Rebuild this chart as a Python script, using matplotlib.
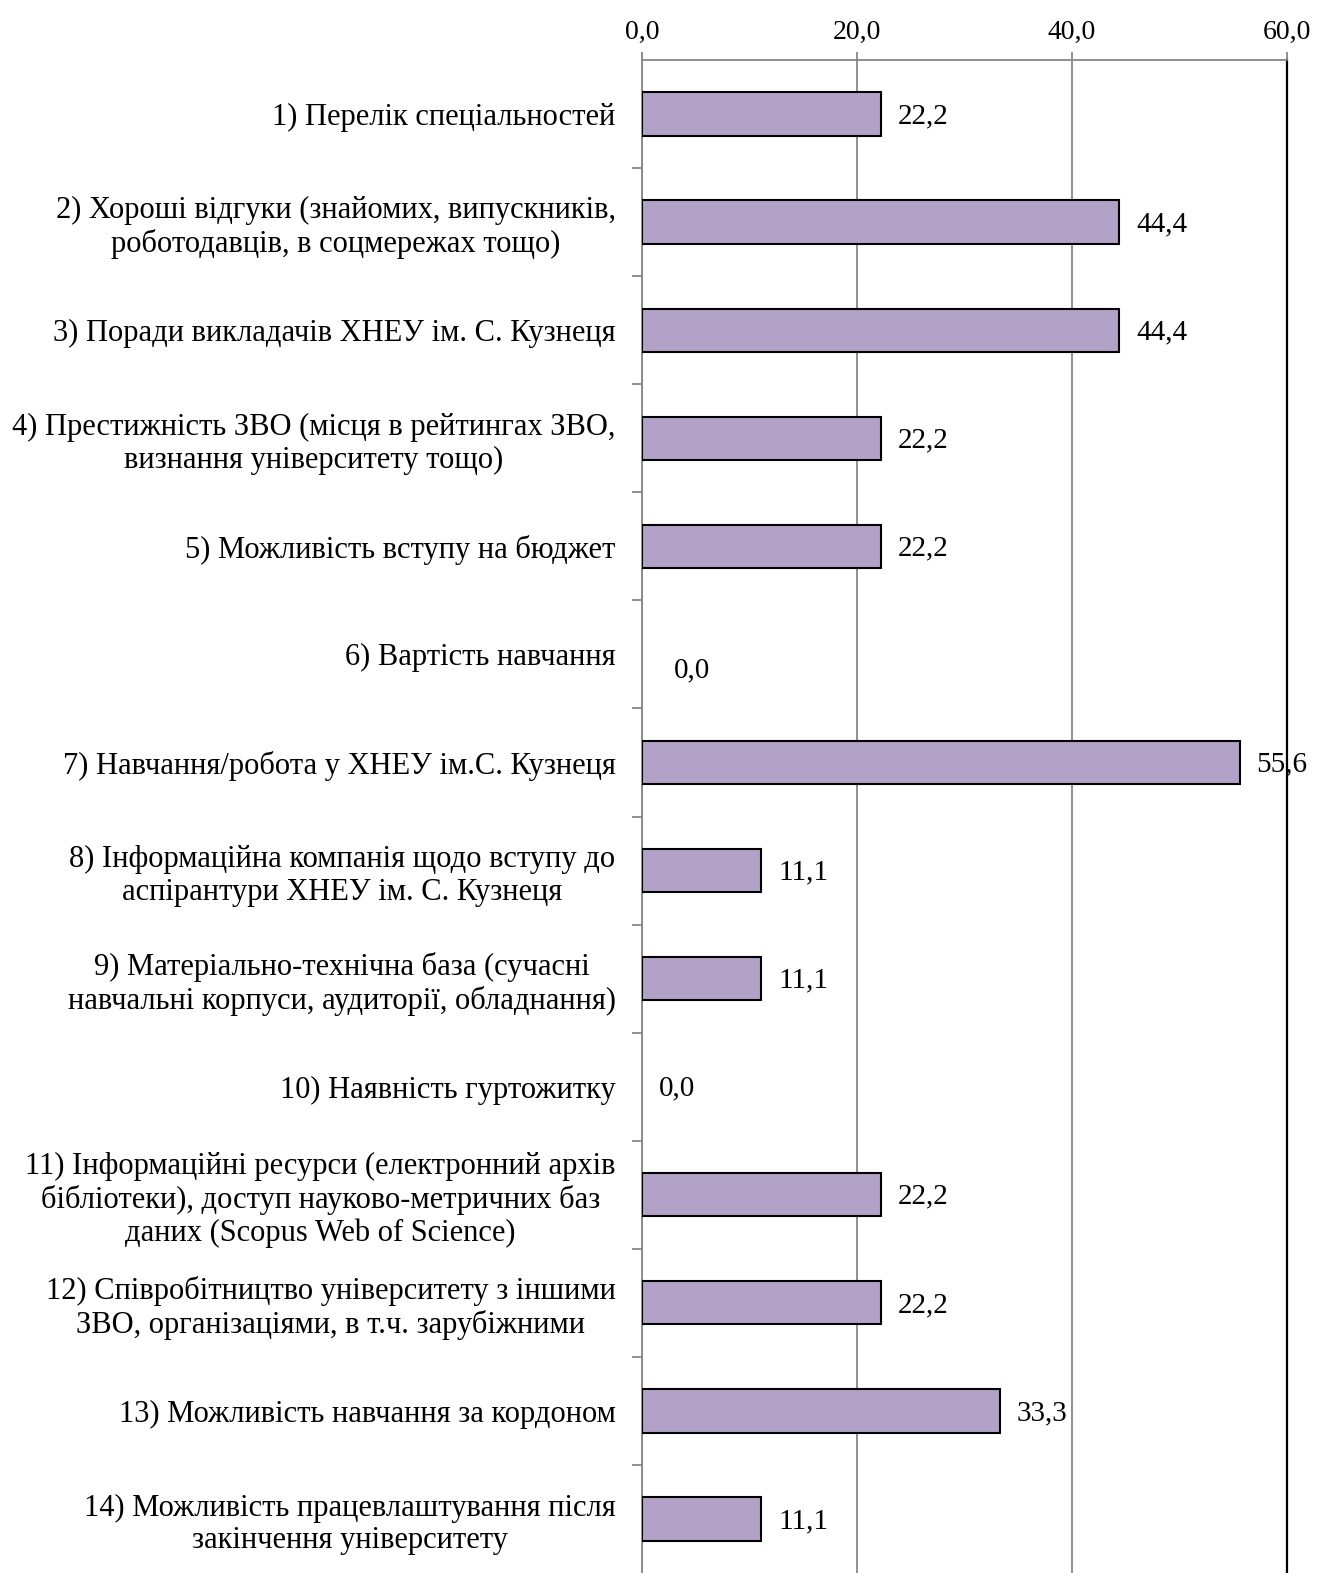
import matplotlib.pyplot as plt
from matplotlib.ticker import FixedLocator

categories = [
    "1) Перелік спеціальностей",
    "2) Хороші відгуки (знайомих, випускників,\nроботодавців, в соцмережах тощо)",
    "3) Поради викладачів ХНЕУ ім. С. Кузнеця",
    "4) Престижність ЗВО (місця в рейтингах ЗВО,\nвизнання університету тощо)",
    "5) Можливість вступу на бюджет",
    "6) Вартість навчання",
    "7) Навчання/робота у ХНЕУ ім.С. Кузнеця",
    "8) Інформаційна компанія щодо вступу до\nаспірантури ХНЕУ ім. С. Кузнеця",
    "9) Матеріально-технічна база (сучасні\nнавчальні корпуси, аудиторії, обладнання)",
    "10) Наявність гуртожитку",
    "11) Інформаційні ресурси (електронний архів\nбібліотеки), доступ науково-метричних баз\nданих (Scopus Web of Science)",
    "12) Співробітництво університету з іншими\nЗВО, організаціями, в т.ч. зарубіжними",
    "13) Можливість навчання за кордоном",
    "14) Можливість працевлаштування після\nзакінчення університету",
]
values = [22.2, 44.4, 44.4, 22.2, 22.2, 0.0, 55.6, 11.1, 11.1, 0.0, 22.2, 22.2, 33.3, 11.1]
x_ticks = [0, 20, 40, 60]

plt.rcParams['font.family'] = ['Liberation Serif', 'DejaVu Serif']

fig = plt.figure(figsize=(13.31, 15.73), dpi=100)
ax = fig.add_axes([642 / 1331, 0.0, (1287 - 642) / 1331, 1 - 60 / 1573])

n = len(values)
pos = list(range(n))
lws = [1.5 if v > 0 else 0 for v in values]
ax.barh(pos, values, height=0.4, color='#B2A2C7', edgecolor='black', linewidth=lws, zorder=3)

ax.set_xlim(0, 60)
ax.set_ylim(n - 0.5, -0.5)

# top axis
ax.xaxis.tick_top()
ax.set_xticks(x_ticks)
ax.set_xticklabels([f"{t:.1f}".replace('.', ',') for t in x_ticks], fontsize=20)
ax.tick_params(axis='x', length=6, width=1.3, color='#878787', pad=5)
ax.grid(axis='x', color='#878787', linewidth=1.3, zorder=0)

# left axis
ax.set_yticks(pos)
ax.set_yticklabels(categories, fontsize=22, multialignment='center', linespacing=1.17)
ax.tick_params(axis='y', which='major', length=0, pad=19)
ax.yaxis.set_minor_locator(FixedLocator([p + 0.5 for p in pos[:-1]]))
ax.tick_params(axis='y', which='minor', length=7, width=1.3, color='#878787')

for s in ['left', 'top']:
    ax.spines[s].set_color('#878787')
    ax.spines[s].set_linewidth(1.3)
ax.spines['bottom'].set_visible(False)
ax.spines['right'].set_color('black')
ax.spines['right'].set_linewidth(1.6)

label_shift = {5: (11, -10)}
for i, v in enumerate(values):
    dx, dy = label_shift.get(i, (0, 0))
    ax.annotate(f"{v:.1f}".replace('.', ','), (v, i), xytext=(12 + dx, -1.5 + dy),
                textcoords='offset points', ha='left', va='center', fontsize=21)

fig.savefig('out.png', dpi=100)
